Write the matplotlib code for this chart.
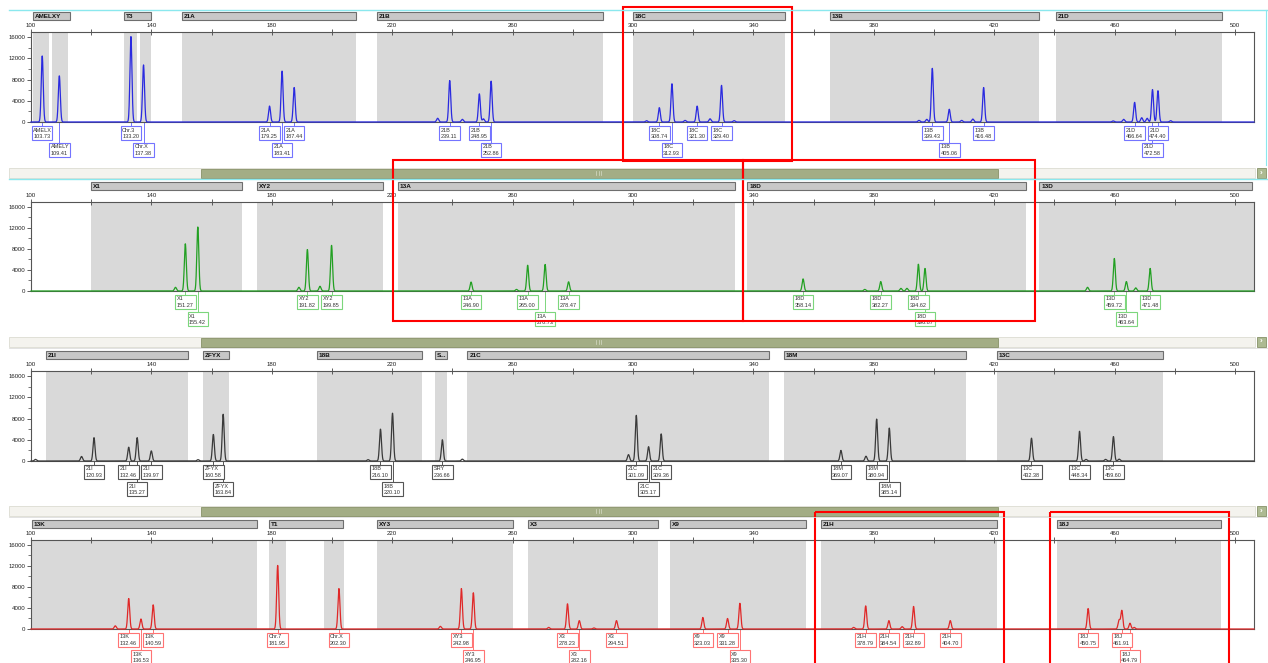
import numpy as np
import matplotlib.pyplot as plt
from matplotlib.patches import Rectangle
from matplotlib.transforms import Affine2D, blended_transform_factory

plt.rcParams['font.family'] = ['Liberation Sans', 'DejaVu Sans']

W, H = 1268, 663
X0, X1 = 100, 506.3

# ---------------- data ----------------
# panel 1 (blue)
bins1 = [(100.7, 106), (107, 112.2), (131, 135.2), (136.2, 140), (150, 208),
         (215, 290), (300, 350.5), (365.5, 435), (440.5, 495.7)]
bars1 = [("AMELXY", 100.7, 113), ("T3", 131, 140), ("21A", 150, 208), ("21B", 215, 290),
         ("18C", 300, 350.5), ("13B", 365.5, 435), ("21D", 440.5, 495.7)]
peaks1 = [("AMELX", "103.73", 103.73, 12450), ("AMELY", "109.41", 109.41, 8700),
          ("Chr.3", "133.20", 133.20, 16100), ("Chr.X", "137.38", 137.38, 10750),
          ("21A", "179.25", 179.25, 3000), ("21A", "183.41", 183.41, 9600),
          ("21A", "187.44", 187.44, 6500), ("21B", "239.11", 239.11, 7800),
          ("21B", "248.95", 248.95, 5300), ("21B", "252.86", 252.86, 7700),
          ("18C", "308.74", 308.74, 2700), ("18C", "312.93", 312.93, 7200),
          ("18C", "321.30", 321.30, 3000), ("18C", "329.40", 329.40, 6900),
          ("13B", "399.43", 399.43, 10100), ("13B", "405.06", 405.06, 2400),
          ("13B", "416.48", 416.48, 6500), ("21D", "466.64", 466.64, 3700),
          ("21D", "472.58", 472.58, 6100), ("21D", "474.40", 474.40, 5900)]
minor1 = [(235.1, 700), (243.3, 500), (250.3, 600), (304.5, 250), (317.3, 300),
          (325.6, 600), (333.6, 250), (395.0, 300), (397.6, 500), (409.2, 300),
          (412.9, 550), (459.5, 200), (463.0, 500), (469.0, 800), (470.8, 700),
          (478.6, 250)]

# panel 2 (green)
bins2 = [(120, 170), (175, 217), (222, 334), (338, 430.5), (435, 506.3)]
bars2 = [("X1", 120, 170), ("XY2", 175, 217), ("13A", 222, 334), ("18D", 338, 430.5),
         ("13D", 435, 505.5)]
peaks2 = [("X1", "151.27", 151.27, 9000), ("X1", "155.42", 155.42, 12200),
          ("XY2", "191.82", 191.82, 7900), ("XY2", "199.85", 199.85, 8700),
          ("13A", "246.90", 246.2, 1700), ("13A", "265.00", 265.0, 4900),
          ("13A", "270.73", 270.8, 5050), ("13A", "278.47", 278.6, 1750),
          ("18D", "358.14", 356.5, 2300), ("18D", "382.27", 382.3, 1800),
          ("18D", "394.62", 394.8, 5100), ("18D", "396.87", 397.0, 4300),
          ("13D", "459.72", 459.9, 6200), ("13D", "463.64", 463.9, 1800),
          ("13D", "471.48", 471.8, 4300)]
minor2 = [(148.0, 700), (189.0, 700), (196.0, 900), (261.3, 300), (377.0, 300),
          (389.0, 500), (391.0, 500), (451.0, 700), (467.0, 600)]

# panel 3 (black)
bins3 = [(104.9, 152.1), (157.1, 165.9), (194.9, 230), (234.2, 238.3), (245, 345.1),
         (350.2, 410.5), (420.8, 476)]
bars3 = [("21I", 104.9, 152.1), ("ZFYX", 157.1, 165.9), ("18B", 194.9, 230),
         ("S...", 234.2, 238.3), ("21C", 245, 345.1), ("18M", 350.2, 410.5),
         ("13C", 420.8, 476)]
peaks3 = [("21I", "120.93", 120.93, 4400), ("21I", "132.46", 132.46, 2600),
          ("21I", "135.27", 135.27, 4400), ("21I", "139.97", 139.97, 1900),
          ("ZFYX", "160.58", 160.58, 5000), ("ZFYX", "163.84", 163.84, 8800),
          ("18B", "216.10", 216.10, 6000), ("18B", "220.10", 220.10, 9000),
          ("SRY", "236.66", 236.66, 4000), ("21C", "301.09", 301.09, 8600),
          ("21C", "305.17", 305.17, 2700), ("21C", "309.36", 309.36, 5100),
          ("18M", "369.07", 369.07, 2000), ("18M", "380.94", 380.94, 7900),
          ("18M", "385.14", 385.14, 6200), ("13C", "432.38", 432.38, 4300),
          ("13C", "448.34", 448.34, 5600), ("13C", "459.60", 459.60, 4600)]
minor3 = [(101.5, 300), (116.8, 850), (155.5, 250), (212.0, 250), (243.3, 350),
          (298.5, 1200), (377.4, 900), (450.5, 300), (457.0, 300), (461.5, 350)]

# panel 4 (red)
bins4 = [(100, 175), (179.2, 184.6), (197.5, 204), (215, 260), (265, 308.3),
         (312.2, 357.6), (362.5, 420.8), (440.9, 495.3)]
bars4 = [("13K", 100.2, 175), ("T1", 179.2, 203.6), ("XY3", 215, 260), ("X3", 265, 308.3),
         ("X9", 312.2, 357.6), ("21H", 362.5, 420.8), ("18J", 440.9, 495.3)]
peaks4 = [("13K", "132.46", 132.46, 5800), ("13K", "136.53", 136.53, 1900),
          ("13K", "140.59", 140.59, 4600), ("Chr.7", "181.95", 181.95, 12100),
          ("Chr.X", "202.30", 202.30, 7700), ("XY3", "242.98", 242.98, 7700),
          ("XY3", "246.95", 246.95, 6900), ("X3", "278.23", 278.23, 4800),
          ("X3", "282.16", 282.16, 1600), ("X3", "294.51", 294.51, 1600),
          ("X9", "323.03", 323.2, 2200), ("X9", "331.28", 331.4, 2000),
          ("X9", "335.30", 335.5, 4900), ("21H", "378.79", 377.3, 4400),
          ("21H", "384.54", 385.0, 1600), ("21H", "392.89", 393.2, 4300),
          ("21H", "404.70", 405.4, 1600), ("18J", "450.75", 451.2, 3900),
          ("18J", "461.91", 462.4, 3500), ("18J", "464.79", 465.1, 1100)]
minor4 = [(128.0, 600), (236.0, 500), (272.0, 300), (287.0, 200), (373.3, 300),
          (389.4, 450), (461.5, 1700), (466.5, 300)]

panels = [
    (bins1, bars1, peaks1, minor1, "#2a2ae0", "#7474ff", 32, 122),
    (bins2, bars2, peaks2, minor2, "#22a022", "#7cd67c", 202, 291),
    (bins3, bars3, peaks3, minor3, "#3a3a3a", "#555555", 371, 461),
    (bins4, bars4, peaks4, minor4, "#e02828", "#ff7474", 540, 629),
]

fig = plt.figure(figsize=(W / 100, H / 100), dpi=100)
flip = Affine2D().scale(1, -1).translate(0, H)   # y in image pixels from the top
ppu = 1223 / (X1 - X0)                             # pixels per size unit
xs = np.linspace(X0, X1, 9000)

for bins, bars, peaks, minor, lc, bc, top, base in panels:
    ax = fig.add_axes([31 / W, 1 - base / H, 1223 / W, (base - top) / H])
    ax.set_xlim(X0, X1)
    ax.set_ylim(0, 16950)
    tr = blended_transform_factory(ax.transData, flip)

    for a, b in bins:
        ax.axvspan(a, b, color="#d9d9d9", lw=0, zorder=0)

    trace = np.zeros_like(xs)
    for _, _, pos, h in peaks:
        trace += h * np.exp(-0.5 * ((xs - pos) / 0.33) ** 2)
    for pos, h in minor:
        trace += h * np.exp(-0.5 * ((xs - pos) / 0.35) ** 2)
    ax.plot(xs, trace, color=lc, lw=0.9, zorder=3, clip_on=False)

    for s in ax.spines.values():
        s.set_color("#555555")
        s.set_linewidth(0.8)
    ax.xaxis.tick_top()
    ax.set_xticks(np.arange(100, 501, 40))
    ax.set_xticks(np.arange(120, 501, 40), minor=True)
    ax.tick_params(axis="x", which="both", direction="inout", length=4, width=0.6,
                   colors="#444444", labelsize=4.4, labelcolor="#222222", pad=1.2)
    ax.set_yticks(np.arange(0, 16001, 4000))
    ax.set_yticks(np.arange(2000, 16000, 4000), minor=True)
    ax.tick_params(axis="y", which="major", direction="out", length=3, width=0.6,
                   colors="#444444", labelsize=4.4, labelcolor="#222222", pad=1)
    ax.tick_params(axis="y", which="minor", direction="out", length=2, width=0.5,
                   colors="#444444")

    # marker bars above the plot
    for name, a, b in bars:
        ax.add_patch(Rectangle((a, top - 20), b - a, 8, transform=tr, clip_on=False,
                               fc="#c8c8c8", ec="#6e6e6e", lw=0.8))
        ax.text(a + 0.6, top - 15.8, name, transform=tr, fontsize=4.6, fontweight="bold",
                ha="left", va="center", color="#111111", clip_on=False)

    # peak labels in two rows
    bw = 20.5 / ppu
    last_right = -1e9
    for name, lab, pos, h in sorted(peaks, key=lambda p: p[2]):
        if pos - bw / 2 < last_right:
            y0 = base + 21
        else:
            y0 = base + 4
            last_right = pos + bw / 2
        ax.plot([pos, pos], [base, y0], transform=tr, color=bc, lw=0.7, clip_on=False,
                zorder=2)
        ax.add_patch(Rectangle((pos - bw / 2, y0), bw, 14, transform=tr, clip_on=False,
                               fc="white", ec=bc, lw=0.8, zorder=4))
        ax.text(pos - bw / 2 + 0.5, y0 + 4, name, transform=tr, fontsize=4.0,
                ha="left", va="center", color="#333333", clip_on=False, zorder=5)
        ax.text(pos - bw / 2 + 0.5, y0 + 10.3, lab, transform=tr, fontsize=4.0,
                ha="left", va="center", color="#333333", clip_on=False, zorder=5)

# ---- overlay: scroll bars, selection lines, red highlight boxes ----
ov = fig.add_axes([0, 0, 1, 1], zorder=10)
ov.set_xlim(0, W)
ov.set_ylim(H, 0)
ov.axis("off")
ov.patch.set_visible(False)

ov.plot([9, W], [10, 10], color="#8be8ee", lw=1.0)
ov.plot([W - 2, W - 2], [10, 165], color="#8be8ee", lw=0.8)
for sy in [168, 337, 506]:
    ov.add_patch(Rectangle((9, sy), 1246, 10, fc="#f4f3ee", ec="#dcdcd2", lw=0.6))
    ov.add_patch(Rectangle((201, sy + 0.5), 797, 9, fc="#a3ad85", ec="#879168", lw=0.6))
    for gx in [596, 598.5, 601]:
        ov.plot([gx, gx], [sy + 3, sy + 7], color="#d8dcc8", lw=0.5)
    ov.add_patch(Rectangle((1257, sy), 9, 10, fc="#adba92", ec="#879168", lw=0.6))
    ov.text(1261.5, sy + 5, "›", fontsize=6, color="white", ha="center", va="center",
            fontweight="bold")
ov.plot([9, W], [179, 179], color="#8be8ee", lw=1.0)
ov.plot([9, W], [348, 348], color="#dddddd", lw=0.6)
ov.plot([9, W], [517, 517], color="#dddddd", lw=0.6)

for x, y, w, h in [(623, 7, 169, 154), (393, 160, 350, 161), (743, 160, 292, 161),
                   (815, 512, 189, 160), (1050, 512, 179, 160)]:
    ov.add_patch(Rectangle((x, y), w, h, fill=False, ec="#ff0000", lw=1.5))

fig.savefig("out.png", dpi=100)
